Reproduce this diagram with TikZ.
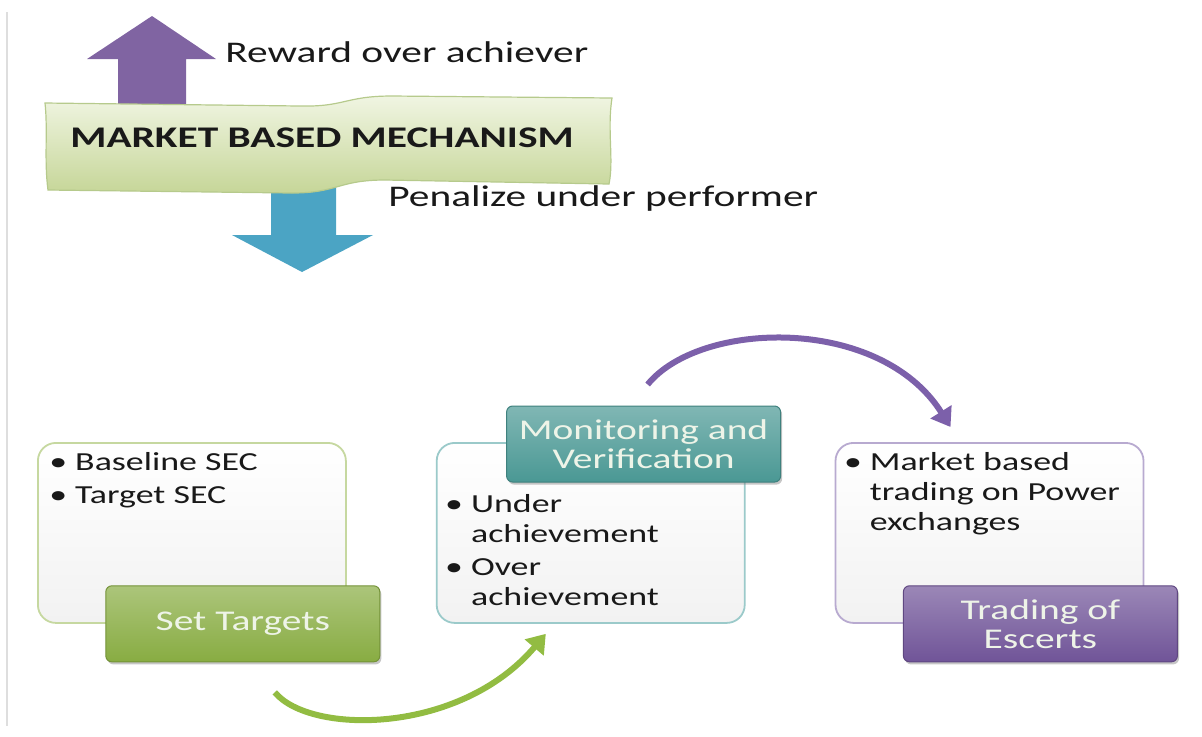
\documentclass[tikz,border=0pt]{standalone}
\usepackage{fontspec}
\setmainfont{Carlito}[FakeStretch=1.38]
\usetikzlibrary{arrows.meta,positioning,shadows}

\definecolor{inkgray}{RGB}{25,25,25}
\definecolor{framegray}{RGB}{222,222,222}
\definecolor{rewardpurple}{RGB}{128,100,162}
\definecolor{penalizeblue}{RGB}{75,164,196}
\definecolor{bannertop}{RGB}{240,245,226}
\definecolor{bannerbottom}{RGB}{198,214,152}
\definecolor{bannerline}{RGB}{182,202,140}
\definecolor{panelfill}{RGB}{242,242,242}
\definecolor{targetsline}{RGB}{198,216,160}
\definecolor{monline}{RGB}{155,202,202}
\definecolor{tradeline}{RGB}{184,170,208}
\definecolor{targetsgreen}{RGB}{136,172,66}
\definecolor{monteal}{RGB}{74,152,148}
\definecolor{tradepurple}{RGB}{112,84,152}
\definecolor{tagtext}{RGB}{238,244,232}
\definecolor{flowgreen}{RGB}{146,188,66}
\definecolor{flowpurple}{RGB}{124,96,170}

\begin{document}
\begin{tikzpicture}[
    x=0.5pt, y=-0.5pt,
    node distance=44.5pt,
    panel/.style={draw=#1, line width=0.9pt, rounded corners=9pt, top color=white, bottom color=panelfill, minimum width=154pt, minimum height=90pt},
    tag/.style={draw=#1!85!black, line width=0.5pt, rounded corners=3pt, top color=#1!70!white, bottom color=#1, text=tagtext, minimum width=137pt, minimum height=38pt, align=center, font=\fontsize{14.3}{14.5}\selectfont, drop shadow={opacity=0.45, shadow xshift=0.8pt, shadow yshift=-1.3pt}},
    items/.style={anchor=base west, inner sep=0pt, text=inkgray, font=\fontsize{13}{15}\selectfont},
    caption/.style={anchor=west, inner sep=0pt, text=inkgray, font=\fontsize{15}{18}\selectfont},
    banner/.style={top color=bannertop, bottom color=bannerbottom, draw=bannerline, line width=0.6pt},
    flow/.style={-{Triangle[width=12pt,length=9pt]}, line width=3pt, draw=#1}
]
\useasboundingbox (0,0) rectangle (1202,736);
\draw[framegray, line width=0.8pt] (7,12) -- (7,726);

\fill[rewardpurple] (118,108) -- (118,59) -- (87,59) -- (152,16) -- (216,59) -- (186,59) -- (186,108) -- cycle;
\fill[penalizeblue] (271,175) -- (271,235) -- (232,235) -- (302,272) -- (373,235) -- (336,235) -- (336,175) -- cycle;

\path[banner] (45,103) -- (300,106) .. controls (345,107) and (345,96) .. (392,96) -- (612,98)
    .. controls (607,130) and (614,160) .. (609,184) -- (385,180)
    .. controls (338,180) and (338,193) .. (292,193) -- (48,190)
    .. controls (44,160) and (48,130) .. cycle;
\node[text=inkgray, font=\bfseries\fontsize{15}{18}\selectfont] (mechanism) at (322,138) {MARKET BASED MECHANISM};
\node[caption] (reward) at (225,52) {Reward over achiever};
\node[caption] (penalize) at (388,198) {Penalize under performer};

\node[panel=targetsline, anchor=north west] (targetsbox) at (37,442) {};
\node[panel=monline, right=of targetsbox] (monbox) {};
\node[panel=tradeline, right=of monbox] (tradebox) {};

\node[items] (targetsitems) at ([xshift=6pt,yshift=-14pt]targetsbox.north west)
    {\begin{tabular}[t]{@{}l@{\hspace{4pt}}l@{}}\textbullet & Baseline SEC\\[1.5pt] \textbullet & Target SEC\end{tabular}};
\node[items] (monitems) at ([xshift=4.5pt,yshift=-35pt]monbox.north west)
    {\begin{tabular}[t]{@{}l@{\hspace{4pt}}l@{}}\textbullet & Under\\ & achievement\\[1.5pt] \textbullet & Over\\ & achievement\end{tabular}};
\node[items] (tradeitems) at ([xshift=4.5pt,yshift=-14pt]tradebox.north west)
    {\begin{tabular}[t]{@{}l@{\hspace{4pt}}l@{}}\textbullet & Market based\\ & trading on Power\\ & exchanges\end{tabular}};

\node[tag=targetsgreen, xshift=-52pt] (settargets) at (targetsbox.south east) {Set Targets};
\node[tag=monteal, xshift=-51pt, yshift=-1pt] (monitoring) at (monbox.north east) {Monitoring and\\Verification};
\node[tag=tradepurple, xshift=-52pt] (trading) at (tradebox.south east) {Trading of\\Escerts};

\coordinate (greenstart) at ([xshift=16pt,yshift=-15pt]settargets.south);
\coordinate (greenend) at ([xshift=55pt,yshift=-5pt]monbox.south west);
\coordinate (purplestart) at ([xshift=2pt,yshift=10.5pt]monitoring.north);
\coordinate (purpleend) at ([xshift=-19.5pt,yshift=7.5pt]tradebox.north);

\draw[flow=flowgreen] (greenstart) .. controls (310,735) and (460,735) .. (greenend);
\draw[flow=flowpurple] (purplestart) .. controls (700,320) and (880,315) .. (purpleend);
\end{tikzpicture}
\end{document}
